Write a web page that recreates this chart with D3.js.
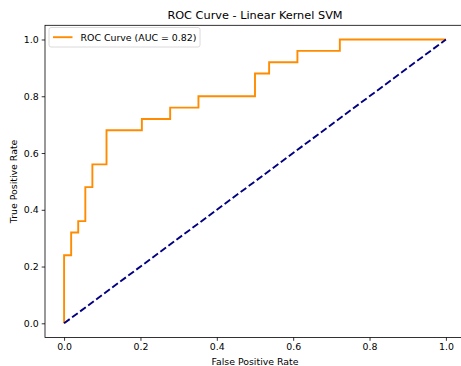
<!DOCTYPE html>
<html>
<head>
<meta charset="utf-8">
<script src="https://cdn.jsdelivr.net/npm/d3@7"></script>
<style>
  html, body { margin: 0; padding: 0; background: #fff; overflow: hidden; }
  svg { display: block; font-family: 'DejaVu Sans', sans-serif; }
</style>
</head>
<body>
<script>
  // ROC curve points (step corners), 54 negatives / 25 positives
  const fpr = [0, 0, 0.0185, 0.0185, 0.037, 0.037, 0.0556, 0.0556, 0.0741, 0.0741,
    0.1111, 0.1111, 0.2037, 0.2037, 0.2778, 0.2778, 0.3519, 0.3519, 0.5, 0.5,
    0.537, 0.537, 0.6111, 0.6111, 0.7222, 0.7222, 1.0];
  const tpr = [0, 0.24, 0.24, 0.32, 0.32, 0.36, 0.36, 0.48, 0.48, 0.56,
    0.56, 0.68, 0.68, 0.72, 0.72, 0.76, 0.76, 0.80, 0.80, 0.88,
    0.88, 0.92, 0.92, 0.96, 0.96, 1.0, 1.0];
  const chanceX = [0, 1];
  const chanceY = [0, 1];
  const tickValues = [0, 0.2, 0.4, 0.6, 0.8, 1.0];
  const aucLabel = 'ROC Curve (AUC = 0.82)';
  const titleText = 'ROC Curve - Linear Kernel SVM';

  const width = 461;
  const height = 366;
  const frame = { left: 45, right: 465, top: 25.3, bottom: 337.5 };

  const svg = d3.select('body')
    .append('svg')
    .attr('width', width)
    .attr('height', height);

  const x = d3.scaleLinear()
    .domain([-0.05, 1.05])
    .range([frame.left, frame.right]);

  const y = d3.scaleLinear()
    .domain([-0.05, 1.05])
    .range([frame.bottom, frame.top]);

  const line = d3.line()
    .x((d) => x(d[0]))
    .y((d) => y(d[1]));

  const rocData = fpr.map((d, i) => [d, tpr[i]]);
  const chanceData = chanceX.map((d, i) => [d, chanceY[i]]);

  svg.append('path')
    .datum(rocData)
    .attr('fill', 'none')
    .attr('stroke', '#ff8c00')
    .attr('stroke-width', 1.9)
    .attr('d', line);

  svg.append('path')
    .datum(chanceData)
    .attr('fill', 'none')
    .attr('stroke', '#000080')
    .attr('stroke-width', 1.9)
    .attr('stroke-dasharray', '7,3')
    .attr('d', line);

  // axes
  const xAxis = svg.append('g')
    .attr('transform', `translate(0, ${frame.bottom})`)
    .call(d3.axisBottom(x).tickValues(tickValues).tickFormat(d3.format('.1f'))
      .tickSize(3.3).tickPadding(3));

  const yAxis = svg.append('g')
    .attr('transform', `translate(${frame.left}, 0)`)
    .call(d3.axisLeft(y).tickValues(tickValues).tickFormat(d3.format('.1f'))
      .tickSize(3.3).tickPadding(3));

  [xAxis, yAxis].forEach((g) => {
    g.select('.domain').remove();
    g.selectAll('line').attr('stroke', '#000').attr('stroke-width', 0.8);
    g.selectAll('text')
      .attr('fill', '#000')
      .style('font-size', '9.4px')
      .style('font-family', 'DejaVu Sans');
  });

  // frame
  svg.append('rect')
    .attr('x', frame.left)
    .attr('y', frame.top)
    .attr('width', frame.right - frame.left)
    .attr('height', frame.bottom - frame.top)
    .attr('fill', 'none')
    .attr('stroke', '#000')
    .attr('stroke-width', 0.8);

  // title and labels
  svg.append('text')
    .attr('x', (frame.left + frame.right) / 2)
    .attr('y', 19.3)
    .attr('text-anchor', 'middle')
    .style('font-size', '11.3px')
    .text(titleText);

  svg.append('text')
    .attr('x', (frame.left + frame.right) / 2)
    .attr('y', 365)
    .attr('text-anchor', 'middle')
    .style('font-size', '9.4px')
    .text('False Positive Rate');

  svg.append('text')
    .attr('transform', `translate(17, ${(frame.top + frame.bottom) / 2}) rotate(-90)`)
    .attr('text-anchor', 'middle')
    .style('font-size', '9.4px')
    .text('True Positive Rate');

  // legend
  const legend = svg.append('g')
    .attr('transform', 'translate(49, 27.5)');

  legend.append('rect')
    .attr('width', 151)
    .attr('height', 19.5)
    .attr('rx', 2)
    .attr('fill', '#fff')
    .attr('fill-opacity', 0.8)
    .attr('stroke', '#d0d0d0')
    .attr('stroke-width', 0.8);

  legend.append('line')
    .attr('x1', 4)
    .attr('x2', 23.5)
    .attr('y1', 9.7)
    .attr('y2', 9.7)
    .attr('stroke', '#ff8c00')
    .attr('stroke-width', 1.9);

  legend.append('text')
    .attr('x', 31.5)
    .attr('y', 13.1)
    .style('font-size', '9.4px')
    .text(aucLabel);
</script>
</body>
</html>
